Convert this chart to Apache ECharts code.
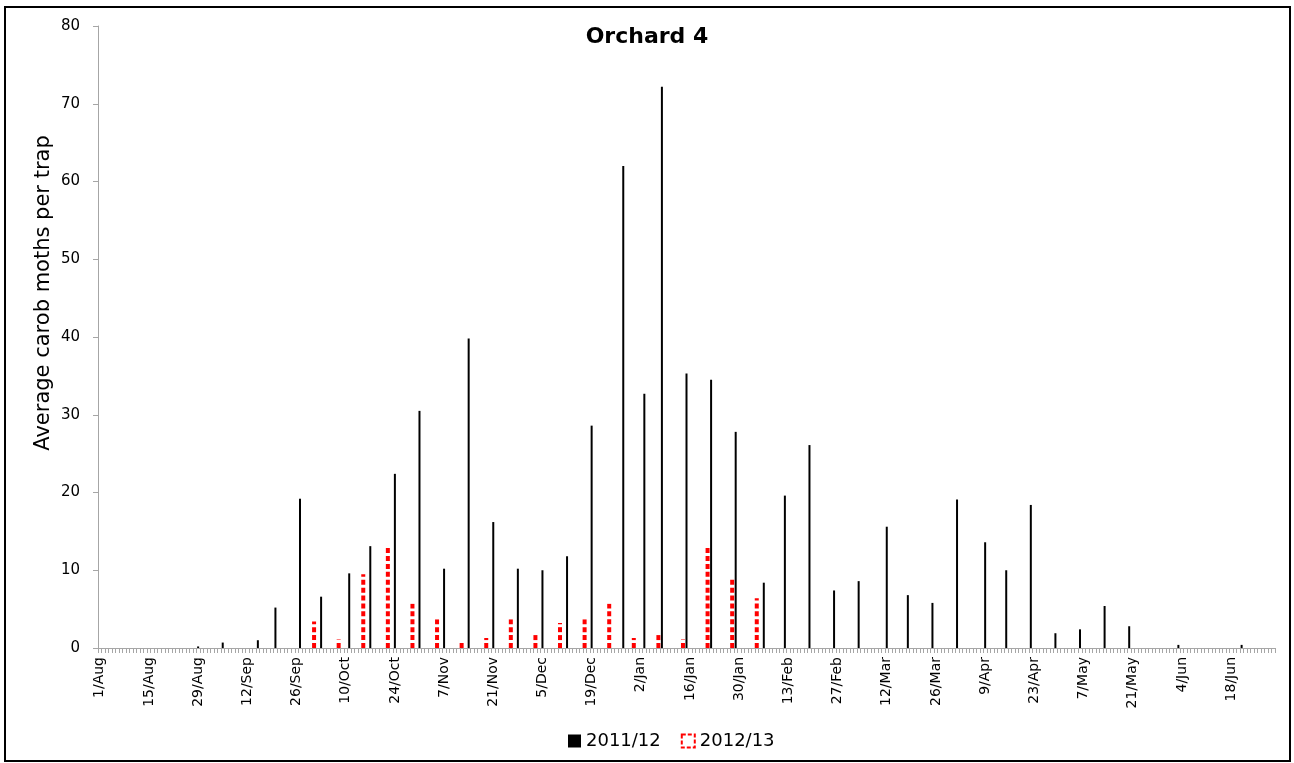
<!DOCTYPE html>
<html>
<head>
<meta charset="utf-8">
<script src="https://cdn.jsdelivr.net/npm/echarts@6/dist/echarts.min.js"></script>
<style>html,body{margin:0;padding:0;background:#fff}#c{width:1294px;height:763px}</style>
</head>
<body>
<div id="c"></div>
<script>
// Axis months (2011/12 season, Feb has 29 days)
var months = ['Aug','Sep','Oct','Nov','Dec','Jan','Feb','Mar','Apr','May','Jun'];
var monthDays = [31,30,31,30,31,31,29,31,30,31,30];

// 2011/12 series
var dates1 = ['29/Aug','5/Sep','15/Sep','20/Sep','27/Sep','3/Oct','11/Oct','17/Oct','24/Oct','31/Oct',
  '7/Nov','14/Nov','21/Nov','28/Nov','5/Dec','12/Dec','19/Dec','28/Dec','3/Jan','8/Jan',
  '15/Jan','22/Jan','29/Jan','6/Feb','12/Feb','19/Feb','26/Feb','4/Mar','12/Mar','18/Mar',
  '25/Mar','1/Apr','9/Apr','15/Apr','22/Apr','29/Apr','6/May','13/May','20/May','3/Jun','21/Jun'];
var values1 = [0.2,0.7,1.0,5.2,19.2,6.6,9.6,13.1,22.4,30.5,
  10.2,39.8,16.2,10.2,10.0,11.8,28.6,62.0,32.7,72.2,
  35.3,34.5,27.8,8.4,19.6,26.1,7.4,8.6,15.6,6.8,
  5.8,19.1,13.6,10.0,18.4,1.9,2.4,5.4,2.8,0.4,0.4];

// 2012/13 series
var dates2 = ['1/Oct','8/Oct','15/Oct','22/Oct','29/Oct','5/Nov','12/Nov','19/Nov','26/Nov','3/Dec',
  '10/Dec','17/Dec','24/Dec','31/Dec','7/Jan','14/Jan','21/Jan','28/Jan','4/Feb'];
var values2 = [3.4,1.1,9.5,13.1,5.7,3.7,0.8,1.3,3.7,1.8,
  3.2,3.7,5.7,1.3,1.8,1.1,13.1,9.1,6.4];

var yAxisTitle = 'Average carob moths per trap';

var categories = [];
months.forEach(function(m,i){ for(var d=1; d<=monthDays[i]; d++){ categories.push(d+'/'+m); } });

var data1 = dates1.map(function(d,i){ return [d, values1[i]]; });
var data2 = dates2.map(function(d,i){ return [d, values2[i]]; });

var chart = echarts.init(document.getElementById('c'), null, {renderer:'canvas'});
chart.setOption({
  animation:false,
  backgroundColor:'#fff',
  title:{text:'Orchard 4', left:'center', top:21,
    textStyle:{fontFamily:'DejaVu Sans', fontWeight:'bold', fontSize:22, color:'#000'}},
  grid:{left:98, right:19, top:26, bottom:115, containLabel:false},
  legend:{left:563, top:727, itemWidth:13, itemHeight:13, itemGap:20,
    textStyle:{fontFamily:'DejaVu Sans', fontSize:18, color:'#000'},
    data:[
      {name:'2011/12', icon:'rect', itemStyle:{color:'#000'}},
      {name:'2012/13', icon:'rect', itemStyle:{color:'#fff', borderColor:'#ff0000', borderWidth:2, borderType:[4,2]}}
    ]},
  xAxis:{type:'category', data:categories, boundaryGap:true,
    axisLine:{lineStyle:{color:'#a6a6a6', width:1}},
    axisTick:{show:true, interval:0, length:5, lineStyle:{color:'#a6a6a6'}},
    axisLabel:{interval:13, rotate:90, fontFamily:'DejaVu Sans', fontSize:14, color:'#000', margin:9},
    splitLine:{show:false}},
  yAxis:{type:'value', min:0, max:80, interval:10,
    axisLine:{show:true, lineStyle:{color:'#a6a6a6'}},
    axisTick:{show:true, length:5, lineStyle:{color:'#a6a6a6'}},
    axisLabel:{fontFamily:'DejaVu Sans', fontSize:15, color:'#000', margin:18},
    splitLine:{show:false}},
  graphic:[
    {type:'rect', shape:{x:5, y:7, width:1285, height:754},
      style:{fill:'none', stroke:'#000', lineWidth:2}, silent:true},
    {type:'text', x:44, y:293, rotation:Math.PI/2,
      style:{text:yAxisTitle, fontFamily:'DejaVu Sans', fontSize:21, fill:'#000',
        textAlign:'center', textVerticalAlign:'middle'}, silent:true}
  ],
  series:[
    {name:'2011/12', type:'bar', data:data1, barWidth:2,
      itemStyle:{color:'#000'}},
    {name:'2012/13', type:'pictorialBar', data:data2,
      symbol:'rect', symbolRepeat:true, symbolSize:[4,5], symbolMargin:1.5,
      symbolClip:true, symbolBoundingData:80, symbolPosition:'start',
      itemStyle:{color:'#ff0000'}}
  ]
});
</script>
</body>
</html>
